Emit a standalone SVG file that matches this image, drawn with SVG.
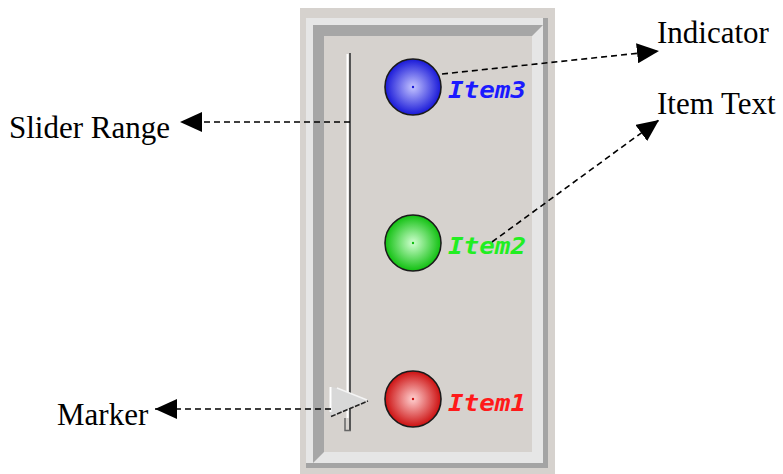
<svg xmlns="http://www.w3.org/2000/svg" width="783" height="474" viewBox="0 0 783 474">
  <style>
    .lbl { font-family: "Liberation Serif", "Times New Roman", serif; font-size: 31px; fill: #000; }
    .item { font-family: "DejaVu Sans Mono", "Liberation Mono", monospace; font-size: 23.5px; font-weight: bold; font-style: italic; }
    .conn { fill: none; stroke: #000; stroke-width: 1.6; stroke-dasharray: 6 4; }
    .led { stroke: #1a1a1a; stroke-width: 1.6; }
  </style>
  <defs>
    <marker id="arr" markerUnits="userSpaceOnUse" markerWidth="22" markerHeight="20" viewBox="0 0 22 20" refX="22" refY="10" orient="auto">
      <path d="M0,0 L22,10 L0,20 Z" fill="#000"/>
    </marker>
    <radialGradient id="gBlue" cx="0.5" cy="0.5" r="0.5">
      <stop offset="0" stop-color="#c4c4ff"/>
      <stop offset="1" stop-color="#1818d8"/>
    </radialGradient>
    <radialGradient id="gGreen" cx="0.5" cy="0.5" r="0.5">
      <stop offset="0" stop-color="#d0ffd0"/>
      <stop offset="1" stop-color="#10c010"/>
    </radialGradient>
    <radialGradient id="gRed" cx="0.5" cy="0.5" r="0.5">
      <stop offset="0" stop-color="#ffd0d0"/>
      <stop offset="1" stop-color="#cc1010"/>
    </radialGradient>
  </defs>

  <rect width="783" height="474" fill="#fff"/>

  <g id="panel">
    <rect x="300" y="8" width="255" height="466" fill="#d6d2ce"/>
    <rect x="306" y="18" width="242" height="450" fill="#a4a4a4"/>
    <rect x="306" y="18" width="237" height="445" fill="#e6e6e6"/>
    <polygon points="313,25 543,25 532,36 324,36 324,452 313,463" fill="#a6a6a6"/>
    <rect x="324" y="36" width="208" height="416" fill="#d6d2ce"/>
  </g>

  <g id="track">
    <line x1="347.5" y1="54" x2="347.5" y2="418" stroke="#ffffff" stroke-width="2"/>
    <line x1="350" y1="53" x2="350" y2="431" stroke="#555555" stroke-width="2"/>
    <path d="M345,418 V430.5 H351" fill="none" stroke="#666666" stroke-width="1.5"/>
  </g>

  <g id="slider-marker">
    <polygon points="330,387 337,388 368,400 330,417" fill="#d8d8d8"/>
    <line x1="330.5" y1="387" x2="330.5" y2="412" stroke="#ffffff" stroke-width="2"/>
    <line x1="337" y1="388" x2="367" y2="400" stroke="#f4f4f4" stroke-width="1.5"/>
    <line x1="331" y1="416.5" x2="368" y2="401" stroke="#222" stroke-width="1.5" stroke-dasharray="5 1.5"/>
  </g>

  <g id="item3">
    <circle class="led" cx="413" cy="87" r="28" fill="url(#gBlue)"/>
    <circle cx="413" cy="87" r="1.2" fill="#1818d8"/>
    <text class="item" x="448" y="98" fill="#1a1aff" textLength="78" lengthAdjust="spacingAndGlyphs">Item3</text>
  </g>

  <g id="item2">
    <circle class="led" cx="413" cy="243" r="28" fill="url(#gGreen)"/>
    <circle cx="413" cy="243" r="1.2" fill="#10c010"/>
    <text class="item" x="448" y="254" fill="#22ee22" textLength="78" lengthAdjust="spacingAndGlyphs">Item2</text>
  </g>

  <g id="item1">
    <circle class="led" cx="413" cy="399" r="28" fill="url(#gRed)"/>
    <circle cx="413" cy="399" r="1.2" fill="#cc1010"/>
    <text class="item" x="448" y="411" fill="#ff1a1a" textLength="78" lengthAdjust="spacingAndGlyphs">Item1</text>
  </g>

  <g id="connectors">
    <line class="conn" x1="350" y1="122" x2="180" y2="122" marker-end="url(#arr)"/>
    <line class="conn" x1="331" y1="409" x2="155" y2="409" marker-end="url(#arr)"/>
    <line class="conn" x1="442" y1="74" x2="659" y2="51" marker-end="url(#arr)"/>
    <line class="conn" x1="492" y1="242" x2="659" y2="120" marker-end="url(#arr)"/>
  </g>

  <g id="label-slider-range"><text class="lbl" x="9" y="138">Slider Range</text></g>
  <g id="label-marker"><text class="lbl" x="57" y="425">Marker</text></g>
  <g id="label-indicator"><text class="lbl" x="657" y="43">Indicator</text></g>
  <g id="label-item-text"><text class="lbl" x="657" y="114">Item Text</text></g>
</svg>
